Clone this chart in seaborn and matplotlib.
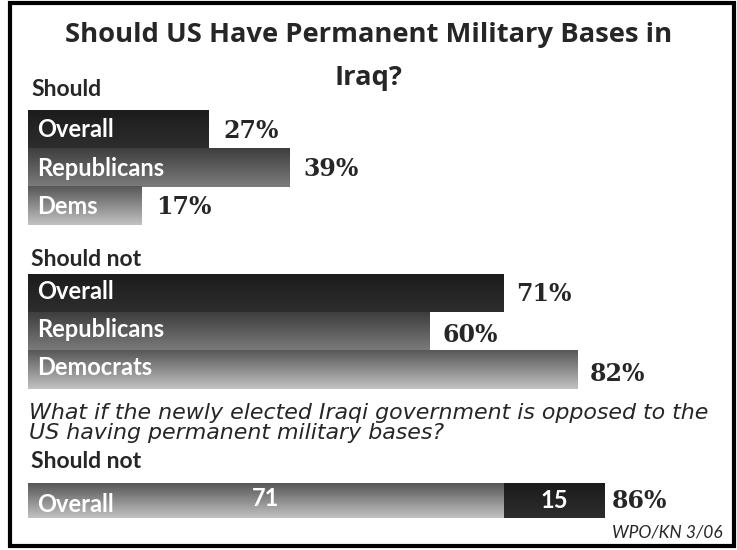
import numpy as np
import pandas as pd
import matplotlib
matplotlib.use("Agg")
import matplotlib.pyplot as plt
import seaborn as sns
from matplotlib.colors import LinearSegmentedColormap
from matplotlib.patches import Rectangle

# data
should_groups = ["Overall", "Republicans", "Dems"]
should_vals = [27, 39, 17]
shouldnot_groups = ["Overall", "Republicans", "Democrats"]
shouldnot_vals = [71, 60, 82]
opposed_group = ["Overall"]
opposed_parts = [71, 15]
opposed_total = 86

title = "Should US Have Permanent Military Bases in\nIraq?"
question = "What if the newly elected Iraqi government is opposed to the\nUS having permanent military bases?"

sns.set_theme(style="white")
plt.rcParams["font.family"] = ["Lato", "DejaVu Sans"]
serif = ["DejaVu Serif"]

W, H = 737, 550
PX = 6.7   # pixels per percent point
X0 = 28    # left edge of bars in pixels

# gradient colours (top, bottom) for each row
dark = ("#1b1b1b", "#2e2e2e")
mid = ("#3e3e3e", "#7c7c7c")
light = ("#575757", "#c2c2c2")

fig = plt.figure(figsize=(W / 100, H / 100), dpi=100)


def make_ax(top, bottom):
    ax = fig.add_axes([X0 / W, 1 - bottom / H, (W - X0) / W, (bottom - top) / H])
    return ax


def shade(ax, patch, cols):
    # paint a vertical gradient inside a bar
    x, y = patch.get_x(), patch.get_y()
    w, h = patch.get_width(), patch.get_height()
    cmap = LinearSegmentedColormap.from_list("g", list(cols))
    grad = np.linspace(0, 1, 128).reshape(-1, 1)
    xl, yl = ax.get_xlim(), ax.get_ylim()
    ax.imshow(grad, cmap=cmap, aspect="auto", origin="upper",
              extent=(x, x + w, y + h, y), zorder=patch.get_zorder() + 0.1)
    ax.set_xlim(xl)
    ax.set_ylim(yl)


def finish(ax, n):
    ax.set_xlim(0, (W - X0) / PX)
    ax.set_ylim(n - 0.5, -0.5)
    ax.axis("off")


LBL = 17   # bar label size
VAL = 17   # value label size

# --- Should
ax1 = make_ax(110, 225)
sns.barplot(x=should_vals, y=should_groups, orient="h", width=1, color="#333333",
            saturation=1, ax=ax1)
finish(ax1, 3)
for p, cols in zip(ax1.patches, [dark, mid, light]):
    shade(ax1, p, cols)
for i, (g, v) in enumerate(zip(should_groups, should_vals)):
    ax1.text(1.35, i + 0.02, g, color="white", fontsize=LBL, fontweight="bold",
             va="center", ha="left", zorder=5)
    ax1.text(v + 2.1, i + 0.04, f"{v}%", family=serif, fontsize=VAL, fontweight="bold",
             va="center", ha="left")

# --- Should not
ax2 = make_ax(274, 389)
sns.barplot(x=shouldnot_vals, y=shouldnot_groups, orient="h", width=1, color="#333333",
            saturation=1, ax=ax2)
finish(ax2, 3)
for p, cols in zip(ax2.patches, [dark, mid, light]):
    shade(ax2, p, cols)
for i, (g, v) in enumerate(zip(shouldnot_groups, shouldnot_vals)):
    ax2.text(1.35, i - 0.05, g, color="white", fontsize=LBL, fontweight="bold",
             va="center", ha="left", zorder=5)
    ax2.text(v + 1.9, i + 0.03 + 0.07 * (i > 0), f"{v}%", family=serif, fontsize=VAL,
             fontweight="bold", va="center", ha="left")

# --- opposed government, stacked bar
ax3 = make_ax(483, 518)
sns.barplot(x=[opposed_total], y=opposed_group, orient="h", width=1, color="#222222",
            saturation=1, ax=ax3)
sns.barplot(x=[opposed_parts[0]], y=opposed_group, orient="h", width=1, color="#888888",
            saturation=1, ax=ax3)
finish(ax3, 1)
shade(ax3, ax3.patches[0], dark)
shade(ax3, ax3.patches[1], light)
ax3.text(1.35, 0.12, opposed_group[0], color="white", fontsize=LBL, fontweight="bold",
         va="center", ha="left", zorder=5)
ax3.text(opposed_parts[0] / 2, -0.05, str(opposed_parts[0]), color="white",
         fontsize=LBL, fontweight="bold", va="center", ha="center", zorder=5)
ax3.text(opposed_parts[0] + opposed_parts[1] / 2, 0.0, str(opposed_parts[1]), color="white",
         fontsize=LBL, fontweight="bold", va="center", ha="center", zorder=5)
ax3.text(opposed_total + 1.2, 0.0, f"{opposed_total}%", family=serif, fontsize=VAL,
         fontweight="bold", va="center", ha="left")

# --- texts
tfam = ["Open Sans", "DejaVu Sans"]
t1, t2 = title.split("\n")
fig.text(0.5, 1 - 42 / H, t1, ha="center", va="baseline", fontsize=19.7, fontweight="bold",
         family=tfam)
fig.text(0.5, 1 - 85 / H, t2, ha="center", va="baseline", fontsize=19.7, fontweight="bold",
         family=tfam)
fig.text(31 / W, 1 - 90 / H, "Should", fontsize=16.5, fontweight="bold", va="center")
fig.text(31 / W, 1 - 260 / H, "Should not", fontsize=16.5, fontweight="bold", va="center")
fig.text(31 / W, 1 - 462 / H, "Should not", fontsize=16.5, fontweight="bold", va="center")
fig.text(29 / W, 1 - 403 / H, question, fontsize=15.9, style="italic", va="top",
         family=["DejaVu Sans"], linespacing=0.98)
fig.text(723 / W, 1 - 538 / H, "WPO/KN 3/06", fontsize=12.5, style="italic",
         ha="right", va="baseline")

fig.patches.append(Rectangle((10 / W, 1 - 546 / H), 724 / W, 543 / H, transform=fig.transFigure,
                             fill=False, lw=3, ec="black", figure=fig))

fig.savefig("out.png", dpi=100)
